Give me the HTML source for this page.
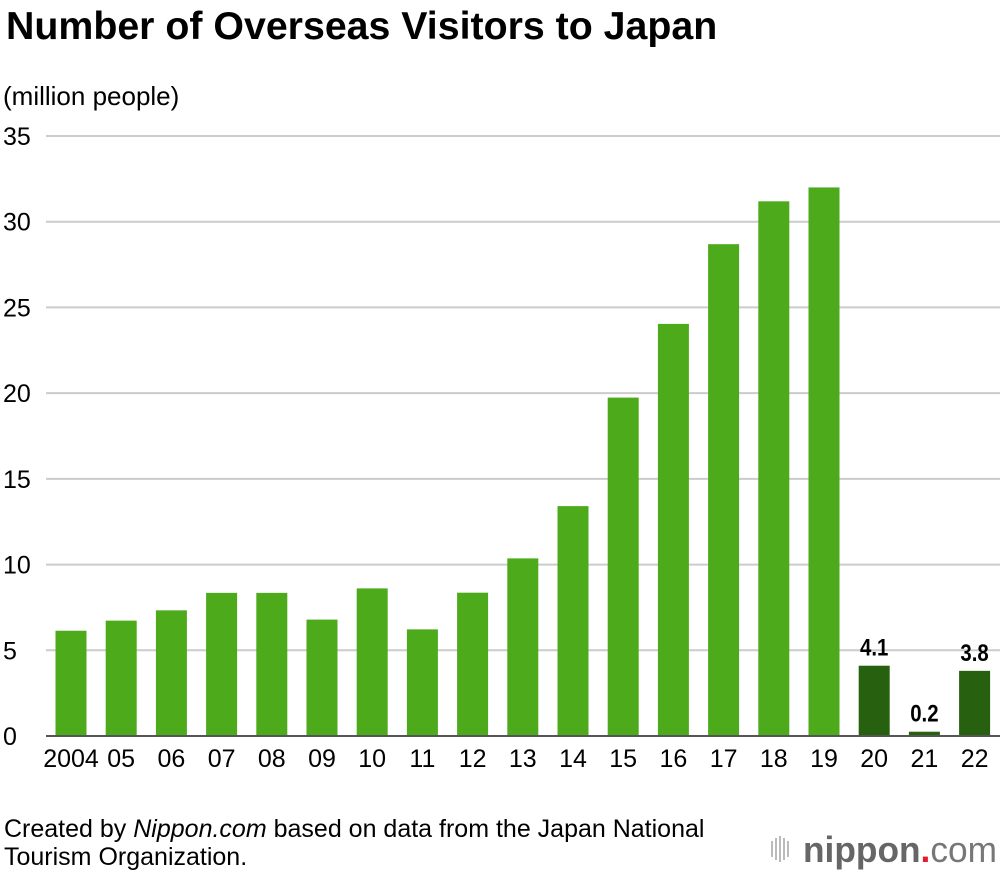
<!DOCTYPE html>
<html><head><meta charset="utf-8"><style>
body{margin:0;background:#fff;width:1000px;height:872px;overflow:hidden;font-family:"Liberation Sans",sans-serif}
</style></head><body>
<svg width="1000" height="872" xmlns="http://www.w3.org/2000/svg">
<text x="6" y="39" font-size="39.3" font-weight="bold" fill="#000">Number of Overseas Visitors to Japan</text>
<text x="3" y="105" font-size="26" fill="#000">(million people)</text>
<g id="grid"></g><g id="bars"></g><g id="labels"></g>
<text x="4" y="837" font-size="25" fill="#000">Created by <tspan font-style="italic">Nippon.com</tspan> based on data from the Japan National</text>
<text x="4" y="865" font-size="25" fill="#000">Tourism Organization.</text>
<g>
<g fill="#bbb"><rect x="771" y="841" width="2" height="16"/><rect x="775" y="838" width="2" height="22"/><rect x="779" y="836" width="2" height="26"/><rect x="783" y="838" width="2" height="22"/><rect x="787" y="841" width="2" height="16"/></g>
<text x="803" y="862" font-size="36" font-weight="bold" fill="#666" textLength="194" lengthAdjust="spacingAndGlyphs">nippon<tspan fill="#e8192c">.</tspan><tspan font-weight="normal" fill="#777">com</tspan></text>
</g>
</svg>
<script>
const years=["2004","05","06","07","08","09","10","11","12","13","14","15","16","17","18","19","20","21","22"];
const values=[6.14,6.73,7.33,8.35,8.35,6.79,8.61,6.22,8.36,10.36,13.41,19.74,24.04,28.69,31.19,32.0,4.1,0.25,3.8];
const printed=["","","","","","","","","","","","","","","","","4.1","0.2","3.8"];
const ticks=[0,5,10,15,20,25,30,35];
const NS="http://www.w3.org/2000/svg";
const y0=736,pxPer=600/35;
function yS(v){return y0-v*pxPer;}
function xS(i){return 71+i*50.2;}
function mk(t,a,p){const e=document.createElementNS(NS,t);for(const k in a)e.setAttribute(k,a[k]);p.appendChild(e);return e;}
const grid=document.getElementById('grid'),bars=document.getElementById('bars'),labels=document.getElementById('labels');
ticks.forEach(t=>{
 if(t>0){const l=mk('line',{x1:46,x2:1000,y1:yS(t),y2:yS(t),stroke:'#ccc','stroke-width':2},grid);
 
 }
 const tx=mk('text',{x:3,y:yS(t)+9,'font-size':25,fill:'#000'},grid);tx.textContent=t;
 
 
});
values.forEach((v,i)=>{
 const dark=i>=16;
 const r=mk('rect',{x:xS(i)-15.5,y:yS(v),width:31,height:v*pxPer,fill:dark?'#27600f':'#4daa1b'},bars);
 
 
 const t=mk('text',{x:xS(i),y:767,'font-size':25,fill:'#000','text-anchor':'middle'},labels);t.textContent=years[i];
 
 
 if(printed[i]){const p=mk('text',{x:xS(i),y:yS(v)-10,'font-size':24,'font-weight':'bold',fill:'#000','text-anchor':'middle',transform:'translate('+xS(i)+',0) scale(0.85,1) translate('+(-xS(i))+',0)'},labels);p.textContent=printed[i];
 
 }
});
const ax=mk('line',{x1:46,x2:1000,y1:y0,y2:y0,stroke:'#555','stroke-width':2},labels);


</script>
</body></html>
